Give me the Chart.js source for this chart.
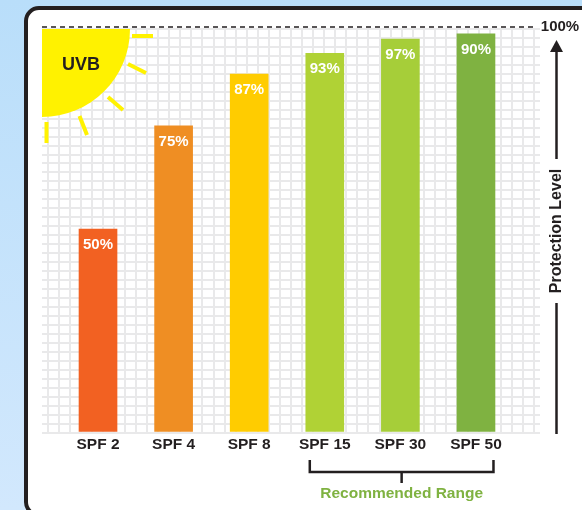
<!DOCTYPE html>
<html>
<head>
<meta charset="utf-8">
<title>UVB protection by SPF</title>
<script src="https://cdn.jsdelivr.net/npm/chart.js@4"></script>
<style>
  html, body { margin: 0; padding: 0; overflow: hidden; }
  body { width: 582px; height: 510px; position: relative; background: linear-gradient(#b9defa, #d2e8fd); }
  #panel {
    position: absolute; left: 24px; top: 6px; width: 620px; height: 511px;
    box-sizing: border-box; background: #fff; border: 4.5px solid #231f20; border-radius: 15px;
  }
  #chart { position: absolute; left: 0; top: 0; }
</style>
</head>
<body>
<div id="panel"></div>
<canvas id="chart" width="582" height="510"></canvas>
<script>
const categories = ["SPF 2", "SPF 4", "SPF 8", "SPF 15", "SPF 30", "SPF 50"];
// bar heights as measured, the printed labels do not always agree with them
const barHeights = [50.4, 76, 88.8, 94, 97.5, 98.8];
const barLabels = ["50%", "75%", "87%", "93%", "97%", "90%"];
const barColors = ["#f26122", "#ef8e23", "#ffcc00", "#b0d235", "#a6ce39", "#7fb241"];
const recommended = ["SPF 15", "SPF 30", "SPF 50"];
const positions = categories.map((_, i) => i);

const INK = "#231f20";
const SUN = "#fff200";
const GRID_CELLS = 45;
const BOLD = '"Liberation Sans", Arial, sans-serif';

function text(ctx, str, x, y, font, color) {
  ctx.font = font;
  ctx.fillStyle = color;
  ctx.textAlign = "center";
  ctx.textBaseline = "middle";
  ctx.fillText(str, x, y);
}

function line(ctx, x1, y1, x2, y2, width, color) {
  ctx.beginPath();
  ctx.moveTo(x1, y1);
  ctx.lineTo(x2, y2);
  ctx.lineWidth = width;
  ctx.strokeStyle = color;
  ctx.stroke();
}

const sunPlugin = {
  id: "sun",
  beforeDatasetsDraw(chart) {
    const { ctx, chartArea: a } = chart;
    ctx.save();
    ctx.fillStyle = SUN;
    ctx.beginPath();
    ctx.moveTo(a.left, a.top);
    ctx.arc(a.left, a.top, 88, 0, Math.PI / 2);
    ctx.closePath();
    ctx.fill();
    line(ctx, 132, 36, 153, 36, 4, SUN);
    line(ctx, 128, 64, 146, 73, 4, SUN);
    line(ctx, 108, 97, 123, 110, 4, SUN);
    line(ctx, 79.5, 116, 87, 135, 4, SUN);
    line(ctx, 46.5, 122, 46.5, 143, 4, SUN);
    text(ctx, "UVB", 81, 65, `bold 18px ${BOLD}`, INK);
    ctx.restore();
  },
};

const notesPlugin = {
  id: "notes",
  afterDraw(chart) {
    const { ctx, chartArea: a, scales } = chart;
    ctx.save();

    // labels inside the bars
    chart.getDatasetMeta(0).data.forEach((bar, i) => {
      text(ctx, barLabels[i], bar.x, bar.y + 16, `bold 15px ${BOLD}`, "#fff");
    });

    // dashed 100% line
    ctx.setLineDash([5, 4]);
    line(ctx, a.left, 27, a.right - 3, 27, 1.5, INK);
    ctx.setLineDash([]);
    text(ctx, "100%", 560, 27, `bold 15px ${BOLD}`, INK);

    // protection level arrow
    const arrowX = 556.5;
    line(ctx, arrowX, 52, arrowX, 159, 2.5, INK);
    line(ctx, arrowX, 303, arrowX, 434, 2.5, INK);
    ctx.fillStyle = INK;
    ctx.beginPath();
    ctx.moveTo(arrowX, 40);
    ctx.lineTo(arrowX + 6.5, 52);
    ctx.lineTo(arrowX - 6.5, 52);
    ctx.closePath();
    ctx.fill();
    ctx.save();
    ctx.translate(arrowX, 231);
    ctx.rotate(-Math.PI / 2);
    text(ctx, "Protection Level", 0, 0, `bold 16px ${BOLD}`, INK);
    ctx.restore();

    // recommended range bracket
    const left = scales.x.getPixelForValue(categories.indexOf(recommended[0])) - 15;
    const right = scales.x.getPixelForValue(categories.indexOf(recommended[recommended.length - 1])) + 17.5;
    const mid = (left + right) / 2;
    ctx.beginPath();
    ctx.moveTo(left, 460);
    ctx.lineTo(left, 472);
    ctx.lineTo(right, 472);
    ctx.lineTo(right, 460);
    ctx.lineWidth = 2.5;
    ctx.strokeStyle = INK;
    ctx.stroke();
    line(ctx, mid, 472, mid, 483, 2.5, INK);
    text(ctx, "Recommended Range", mid, 494, `bold 15.5px ${BOLD}`, "#7fb241");
    ctx.restore();
  },
};

new Chart(document.getElementById("chart"), {
  type: "bar",
  data: {
    datasets: [{
      data: positions.map((x, i) => ({ x, y: barHeights[i] })),
      backgroundColor: barColors,
      borderWidth: 0,
      barThickness: 38,
    }],
  },
  options: {
    responsive: false,
    animation: false,
    layout: { padding: { top: 29, right: 42, left: 0, bottom: 0 } },
    plugins: { legend: { display: false }, tooltip: { enabled: false } },
    scales: {
      x: {
        type: "linear",
        offset: false,
        min: -0.741,
        max: 5.847,
        afterBuildTicks: (s) => { s.ticks = positions.map((value) => ({ value })); },
        afterFit: (s) => { s.height = 77.5; },
        grid: { display: false, drawTicks: false },
        border: { display: false },
        ticks: {
          autoSkip: false,
          maxRotation: 0,
          padding: 3,
          color: INK,
          font: { family: BOLD, weight: "bold", size: 15.5 },
          callback: (v) => categories[v],
        },
      },
      gridX: {
        type: "linear",
        axis: "x",
        position: "top",
        offset: false,
        min: 0,
        max: GRID_CELLS,
        afterBuildTicks: (s) => {
          s.ticks = Array.from({ length: GRID_CELLS + 1 }, (_, value) => ({ value }));
        },
        afterFit: (s) => { s.height = 0; },
        grid: { color: "#e9e9ea", lineWidth: 2, drawTicks: false },
        border: { display: false },
        ticks: { display: false },
      },
      y: {
        min: 0,
        max: 100,
        afterBuildTicks: (s) => {
          s.ticks = Array.from({ length: GRID_CELLS + 1 }, (_, i) => ({ value: i * 100 / GRID_CELLS }));
        },
        afterFit: (s) => { s.width = 42; },
        grid: { color: "#e9e9ea", lineWidth: 2, drawTicks: false },
        border: { display: false },
        ticks: { display: false },
      },
    },
  },
  plugins: [sunPlugin, notesPlugin],
});
</script>
</body>
</html>
